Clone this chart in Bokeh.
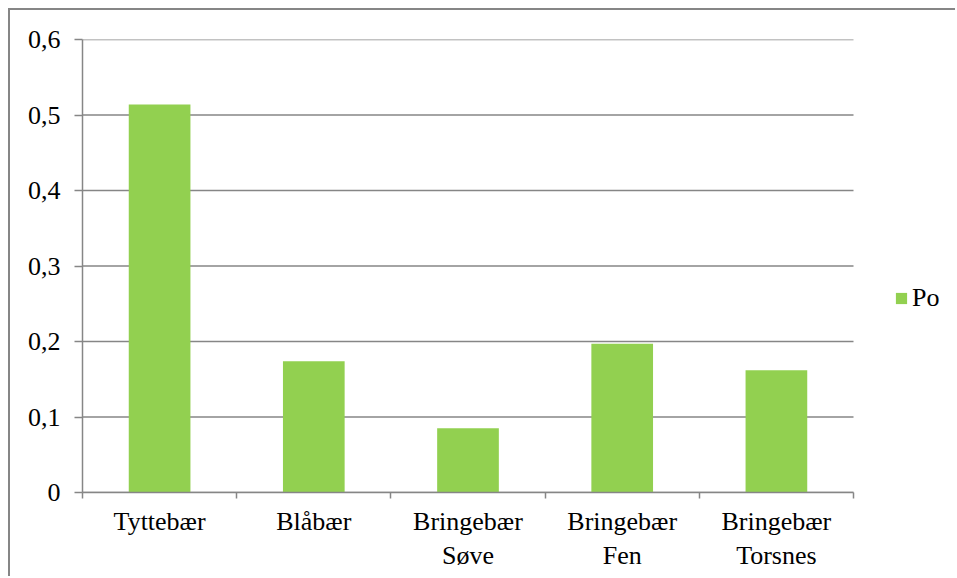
from bokeh.plotting import figure
from bokeh.models import Range1d, FixedTicker, LinearAxis, CustomJSTickFormatter
from bokeh.embed import file_html
from bokeh.resources import INLINE
import numpy as np

# Data
categories = ["Tyttebær", "Blåbær", "Bringebær\nSøve", "Bringebær\nFen", "Bringebær\nTorsnes"]
po_values = [0.514, 0.174, 0.085, 0.197, 0.162]
y_ticks = [0, 0.1, 0.2, 0.3, 0.4, 0.5, 0.6]
series_name = "Po"

GRAY = "#868686"
GREEN = "#92D050"
FONT = "'Liberation Serif', 'Times New Roman', serif"
FSIZE = "26px"

n = len(categories)
x_centers = np.arange(n) + 0.5

# the chart area sits inside a thin gray border, offset from the page corner
OFF = 10
CANVAS_W, CANVAS_H = 957 - OFF, 578 - OFF
LEFT, TOP, BOTTOM = 82 - OFF, 39 - OFF, 86
PLOT_W = 771                      # width used by the bars; the rest holds the legend
FRAME_W = CANVAS_W - LEFT
x_end = n * FRAME_W / PLOT_W

p = figure(width=CANVAS_W, height=CANVAS_H, x_range=Range1d(0, x_end), y_range=Range1d(0, 0.6),
           output_backend="svg", toolbar_location=None,
           min_border_left=LEFT, min_border_right=0, min_border_top=TOP,
           min_border_bottom=BOTTOM,
           x_axis_location=None, y_axis_location=None)
p.outline_line_color = None
p.background_fill_color = "white"
p.border_fill_color = "white"
p.margin = (OFF - 2, 0, 0, OFF - 2)
p.styles = {"border-left": "2px solid " + GRAY, "border-top": "2px solid " + GRAY}

# value axis
yaxis = LinearAxis(ticker=FixedTicker(ticks=y_ticks),
                   formatter=CustomJSTickFormatter(
                       code="return tick == 0 ? '0' : tick.toFixed(1).replace('.', ',');"))
yaxis.axis_line_color = GRAY
yaxis.axis_line_width = 1.5
yaxis.major_tick_line_color = GRAY
yaxis.major_tick_line_width = 1.5
yaxis.major_tick_out = 8
yaxis.major_tick_in = 0
yaxis.minor_tick_line_color = None
yaxis.major_label_text_font = FONT
yaxis.major_label_text_font_size = FSIZE
yaxis.major_label_text_color = "black"
yaxis.major_label_standoff = 14
p.add_layout(yaxis, "left")

# category boundary ticks
xticks_axis = LinearAxis(ticker=FixedTicker(ticks=list(range(n + 1))),
                         formatter=CustomJSTickFormatter(code="return '';"),
                         bounds=(0, n))
xticks_axis.axis_line_color = GRAY
xticks_axis.axis_line_width = 1.5
xticks_axis.major_tick_line_color = GRAY
xticks_axis.major_tick_line_width = 1.5
xticks_axis.major_tick_out = 6
xticks_axis.major_tick_in = 0
xticks_axis.minor_tick_line_color = None
xticks_axis.major_label_text_font_size = "1px"
xticks_axis.major_label_standoff = 0
p.add_layout(xticks_axis, "below")

# category names centred under each bar
xlabel_axis = LinearAxis(ticker=FixedTicker(ticks=list(x_centers)),
                         formatter=CustomJSTickFormatter(args=dict(names=categories),
                                                         code="return names[Math.floor(tick)];"))
xlabel_axis.axis_line_color = None
xlabel_axis.major_tick_line_color = None
xlabel_axis.minor_tick_line_color = None
xlabel_axis.major_tick_out = 0
xlabel_axis.major_tick_in = 0
xlabel_axis.major_label_text_font = FONT
xlabel_axis.major_label_text_font_size = FSIZE
xlabel_axis.major_label_text_color = "black"
xlabel_axis.major_label_standoff = 8
p.add_layout(xlabel_axis, "below")

p.xgrid.visible = False
p.ygrid.visible = False

# horizontal gridlines across the category span only
p.segment(x0=0, x1=n, y0=y_ticks, y1=y_ticks, line_color=GRAY, line_width=1.5)

p.vbar(x=x_centers, top=po_values, width=0.4, fill_color=GREEN, line_color=None,
       legend_label=series_name)

leg = p.legend[0]
leg.location = (812, 179)
leg.border_line_color = None
leg.background_fill_alpha = 0
leg.padding = 0
leg.margin = 0
leg.spacing = 0
leg.glyph_width = 14
leg.glyph_height = 14
leg.label_standoff = 4
leg.label_text_font = FONT
leg.label_text_font_size = FSIZE
leg.label_text_color = "black"

open("out.html", "w").write(file_html(p, INLINE))
